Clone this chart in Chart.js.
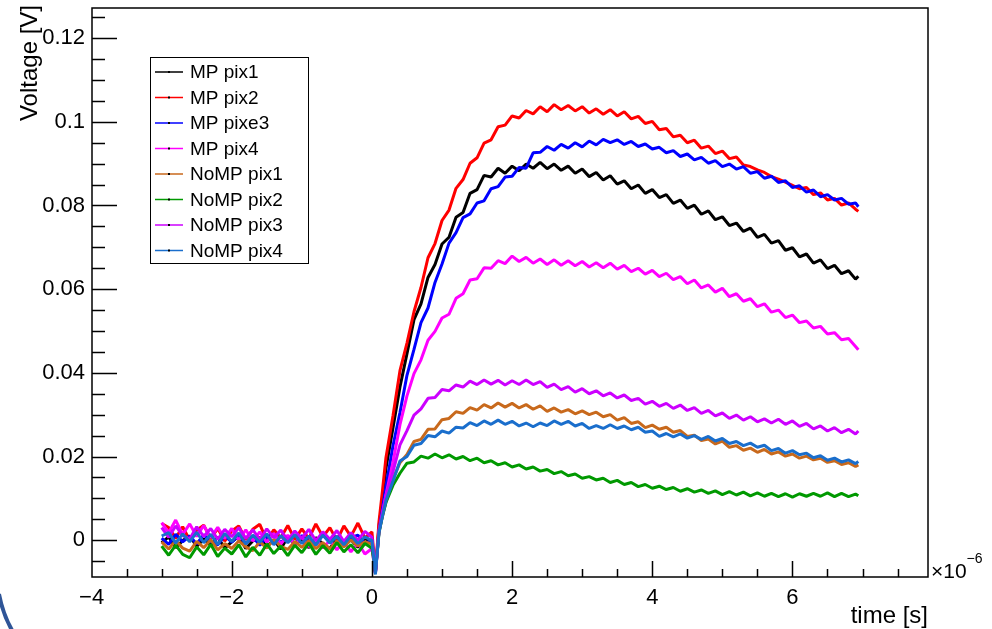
<!DOCTYPE html>
<html>
<head>
<meta charset="utf-8">
<script src="https://cdn.jsdelivr.net/npm/chart.js@4"></script>
<style>
  html, body { margin: 0; padding: 0; background: #fff; }
  canvas { display: block; }
</style>
</head>
<body>
<canvas id="c" width="992" height="629"></canvas>
<script>
// Sample times in microseconds
const times = [
  -3.0,-2.9,-2.8,-2.7,-2.6,-2.5,-2.4,-2.3,-2.2,-2.1,
  -2.0,-1.9,-1.8,-1.7,-1.6,-1.5,-1.4,-1.3,-1.2,-1.1,
  -1.0,-0.9,-0.8,-0.7,-0.6,-0.5,-0.4,-0.3,-0.2,-0.1,
  0.0,
  0.05,0.1,0.15,0.2,
  0.3,0.4,0.5,0.6,0.7,0.8,0.9,1.0,1.1,1.2,
  1.3,1.4,1.5,1.6,1.7,1.8,1.9,2.0,2.1,2.2,
  2.3,2.4,2.5,2.6,2.7,2.8,2.9,3.0,3.1,3.2,
  3.3,3.4,3.5,3.6,3.7,3.8,3.9,4.0,4.1,4.2,
  4.3,4.4,4.5,4.6,4.7,4.8,4.9,5.0,5.1,5.2,
  5.3,5.4,5.5,5.6,5.7,5.8,5.9,6.0,6.1,6.2,
  6.3,6.4,6.5,6.6,6.7,6.8,6.9,
  6.94
];

const seriesNames = ["MP pix1","MP pix2","MP pixe3","MP pix4","NoMP pix1","NoMP pix2","NoMP pix3","NoMP pix4"];
const seriesColors = ["#000000","#ff0000","#0000ff","#ff00ff","#c8691c","#009900","#cc00ff","#1a6ecc"];

// Voltages in volts, one value per sample time
const mpPix1 = [
  -0.0006,0.0008,-0.0018,-0.0001,0.0010,-0.0015,0.0003,-0.0012,0.0007,-0.0019,
  -0.0004,0.0009,-0.0020,-0.0002,0.0006,-0.0016,0.0001,-0.0021,0.0008,-0.0011,
  0.0002,-0.0018,0.0006,-0.0009,-0.0020,0.0005,-0.0013,0.0001,-0.0017,0.0004,
  -0.0005,
  -0.0078,0.0032,0.0098,0.0172,
  0.0268,0.0366,0.0446,0.0527,0.0565,0.0628,0.0659,0.0708,0.0724,0.0772,
  0.0783,0.0829,0.0838,0.0872,0.0868,0.0889,0.0877,0.0894,0.0883,0.0899,
  0.0889,0.0903,0.0888,0.0899,0.0884,0.0894,0.0877,0.0887,0.0869,0.0879,
  0.0861,0.0871,0.0851,0.0859,0.0840,0.0849,0.0829,0.0838,0.0819,0.0826,
  0.0805,0.0813,0.0793,0.0801,0.0779,0.0787,0.0766,0.0773,0.0752,0.0758,
  0.0738,0.0746,0.0724,0.0731,0.0710,0.0716,0.0693,0.0699,0.0677,0.0684,
  0.0662,0.0670,0.0649,0.0657,0.0637,0.0644,0.0624,
  0.0631
];
const mpPix2 = [
  0.0040,0.0030,0.0005,0.0032,0.0000,0.0024,0.0036,0.0003,0.0028,-0.0002,
  0.0022,0.0034,0.0001,0.0026,0.0038,-0.0001,0.0025,0.0006,0.0035,0.0002,
  0.0027,0.0004,0.0039,0.0008,0.0030,-0.0001,0.0034,0.0009,0.0041,0.0005,
  0.0020,
  -0.0076,0.0043,0.0118,0.0197,
  0.0297,0.0405,0.0471,0.0546,0.0604,0.0675,0.0709,0.0764,0.0789,0.0841,
  0.0862,0.0901,0.0914,0.0949,0.0957,0.0988,0.0992,0.1014,0.1009,0.1027,
  0.1019,0.1036,0.1024,0.1041,0.1029,0.1039,0.1026,0.1036,0.1021,0.1031,
  0.1018,0.1029,0.1014,0.1024,0.1007,0.1013,0.0996,0.1001,0.0981,0.0984,
  0.0964,0.0968,0.0950,0.0956,0.0937,0.0942,0.0924,0.0930,0.0912,0.0916,
  0.0897,0.0893,0.0885,0.0879,0.0869,0.0863,0.0856,0.0848,0.0840,0.0843,
  0.0826,0.0830,0.0813,0.0817,0.0801,0.0806,0.0791,
  0.0786
];
const mpPix3 = [
  0.0005,-0.0010,0.0014,-0.0004,0.0010,-0.0009,0.0013,-0.0003,-0.0011,0.0011,
  -0.0005,0.0012,-0.0008,0.0008,-0.0012,0.0007,0.0015,-0.0006,0.0010,-0.0009,
  0.0011,-0.0002,-0.0010,0.0013,-0.0005,0.0009,-0.0011,0.0006,0.0012,-0.0008,
  0.0001,
  -0.0080,0.0021,0.0074,0.0128,
  0.0225,0.0305,0.0394,0.0456,0.0520,0.0555,0.0616,0.0660,0.0710,0.0735,
  0.0771,0.0780,0.0806,0.0811,0.0840,0.0845,0.0868,0.0870,0.0891,0.0889,
  0.0926,0.0927,0.0941,0.0932,0.0946,0.0937,0.0950,0.0940,0.0954,0.0945,
  0.0958,0.0950,0.0957,0.0946,0.0953,0.0941,0.0947,0.0935,0.0939,0.0926,
  0.0931,0.0917,0.0923,0.0909,0.0915,0.0901,0.0907,0.0893,0.0899,0.0887,
  0.0893,0.0877,0.0881,0.0865,0.0870,0.0855,0.0859,0.0843,0.0847,0.0832,
  0.0837,0.0821,0.0826,0.0813,0.0817,0.0803,0.0806,
  0.0797
];
const mpPix4 = [
  0.0042,0.0018,0.0048,0.0014,0.0039,0.0009,0.0035,0.0006,0.0031,0.0004,
  0.0028,0.0000,0.0025,-0.0002,0.0020,-0.0005,0.0016,-0.0009,0.0012,-0.0011,
  0.0008,-0.0016,0.0004,-0.0019,0.0000,-0.0023,-0.0003,-0.0028,-0.0006,-0.0033,
  -0.0020,
  -0.0079,0.0019,0.0062,0.0108,
  0.0186,0.0276,0.0345,0.0398,0.0431,0.0478,0.0499,0.0531,0.0540,0.0578,
  0.0589,0.0622,0.0625,0.0651,0.0650,0.0668,0.0661,0.0679,0.0666,0.0676,
  0.0662,0.0672,0.0659,0.0670,0.0657,0.0668,0.0656,0.0666,0.0653,0.0663,
  0.0651,0.0662,0.0648,0.0657,0.0642,0.0650,0.0636,0.0645,0.0630,0.0638,
  0.0623,0.0630,0.0613,0.0622,0.0603,0.0610,0.0593,0.0602,0.0582,0.0589,
  0.0571,0.0577,0.0558,0.0565,0.0545,0.0550,0.0532,0.0538,0.0520,0.0524,
  0.0507,0.0511,0.0493,0.0496,0.0479,0.0482,0.0463,
  0.0455
];
const noMpPix1 = [
  -0.0004,-0.0021,-0.0001,-0.0019,-0.0026,-0.0003,-0.0018,0.0001,-0.0023,-0.0008,
  -0.0020,-0.0002,-0.0016,-0.0025,-0.0004,-0.0019,0.0002,-0.0015,-0.0022,-0.0003,
  -0.0017,-0.0001,-0.0020,-0.0006,-0.0021,-0.0002,-0.0016,0.0001,-0.0014,-0.0004,
  -0.0009,
  -0.0074,0.0021,0.0056,0.0092,
  0.0146,0.0185,0.0205,0.0236,0.0241,0.0265,0.0266,0.0288,0.0291,0.0307,
  0.0303,0.0317,0.0311,0.0324,0.0316,0.0328,0.0318,0.0327,0.0316,0.0324,
  0.0313,0.0321,0.0308,0.0316,0.0306,0.0312,0.0302,0.0309,0.0300,0.0306,
  0.0295,0.0300,0.0287,0.0293,0.0279,0.0283,0.0269,0.0275,0.0265,0.0270,
  0.0258,0.0262,0.0248,0.0251,0.0238,0.0242,0.0230,0.0237,0.0222,0.0226,
  0.0215,0.0220,0.0210,0.0217,0.0206,0.0211,0.0201,0.0206,0.0196,0.0201,
  0.0192,0.0196,0.0186,0.0190,0.0181,0.0185,0.0176,
  0.0180
];
const noMpPix2 = [
  -0.0014,-0.0036,-0.0012,-0.0034,-0.0042,-0.0016,-0.0035,-0.0010,-0.0039,-0.0019,
  -0.0033,-0.0011,-0.0040,-0.0017,-0.0036,-0.0009,-0.0032,-0.0014,-0.0037,-0.0012,
  -0.0030,-0.0007,-0.0034,-0.0013,-0.0031,-0.0006,-0.0028,-0.0011,-0.0030,-0.0008,
  -0.0019,
  -0.0075,0.0016,0.0059,0.0090,
  0.0131,0.0160,0.0184,0.0187,0.0201,0.0196,0.0206,0.0197,0.0204,0.0194,
  0.0200,0.0190,0.0196,0.0185,0.0190,0.0180,0.0185,0.0175,0.0180,0.0170,
  0.0175,0.0165,0.0169,0.0159,0.0164,0.0154,0.0158,0.0148,0.0152,0.0144,
  0.0148,0.0138,0.0143,0.0133,0.0138,0.0128,0.0133,0.0124,0.0129,0.0121,
  0.0126,0.0117,0.0123,0.0115,0.0120,0.0112,0.0118,0.0109,0.0116,0.0108,
  0.0115,0.0106,0.0113,0.0105,0.0112,0.0104,0.0111,0.0103,0.0111,0.0105,
  0.0112,0.0105,0.0113,0.0104,0.0112,0.0104,0.0110,
  0.0106
];
const noMpPix3 = [
  0.0030,0.0007,0.0034,0.0011,0.0003,0.0032,0.0009,0.0028,0.0002,0.0026,
  0.0008,0.0030,0.0004,0.0025,0.0001,0.0027,0.0006,0.0024,-0.0001,0.0022,
  0.0004,0.0026,-0.0002,0.0020,0.0002,0.0023,-0.0003,0.0018,0.0000,0.0021,
  0.0007,
  -0.0077,0.0022,0.0066,0.0107,
  0.0163,0.0228,0.0262,0.0299,0.0314,0.0339,0.0341,0.0360,0.0357,0.0371,
  0.0366,0.0380,0.0372,0.0383,0.0373,0.0382,0.0371,0.0381,0.0372,0.0383,
  0.0372,0.0379,0.0365,0.0373,0.0360,0.0367,0.0354,0.0362,0.0350,0.0357,
  0.0345,0.0352,0.0340,0.0347,0.0334,0.0339,0.0325,0.0332,0.0320,0.0327,
  0.0315,0.0323,0.0310,0.0317,0.0303,0.0310,0.0297,0.0304,0.0291,0.0299,
  0.0287,0.0295,0.0283,0.0290,0.0280,0.0289,0.0277,0.0285,0.0272,0.0279,
  0.0266,0.0273,0.0261,0.0269,0.0257,0.0265,0.0254,
  0.0261
];
const noMpPix4 = [
  0.0010,0.0018,-0.0007,0.0015,-0.0004,0.0019,-0.0006,0.0014,-0.0010,0.0016,
  -0.0003,0.0017,-0.0009,0.0012,-0.0005,0.0015,-0.0011,0.0011,-0.0006,0.0013,
  -0.0008,0.0010,-0.0012,0.0012,-0.0007,0.0009,-0.0011,0.0011,-0.0008,0.0008,
  -0.0001,
  -0.0082,0.0018,0.0057,0.0094,
  0.0141,0.0189,0.0200,0.0227,0.0231,0.0250,0.0247,0.0261,0.0256,0.0270,
  0.0268,0.0281,0.0274,0.0285,0.0277,0.0287,0.0277,0.0284,0.0273,0.0280,
  0.0271,0.0280,0.0274,0.0285,0.0277,0.0284,0.0273,0.0279,0.0267,0.0274,
  0.0267,0.0276,0.0267,0.0273,0.0264,0.0270,0.0258,0.0261,0.0248,0.0255,
  0.0247,0.0254,0.0244,0.0250,0.0241,0.0248,0.0237,0.0243,0.0231,0.0236,
  0.0226,0.0232,0.0222,0.0227,0.0214,0.0219,0.0208,0.0214,0.0204,0.0208,
  0.0197,0.0202,0.0191,0.0196,0.0187,0.0192,0.0183,
  0.0188
];

// Axis ranges and tick labels
const xRange = [-3.994, 7.934];
const yRange = [-0.0088, 0.1272];
const xTickValues = [-4, -2, 0, 2, 4, 6];
const yTickValues = [0, 0.02, 0.04, 0.06, 0.08, 0.1, 0.12];
const xMinorStep = 0.5;
const yMinorStep = 0.005;
const xTitle = "time [s]";
const yTitle = "Voltage [V]";
const xExponent = "\u22126";

const allSeries = [mpPix1, mpPix2, mpPix3, mpPix4, noMpPix1, noMpPix2, noMpPix3, noMpPix4];

const FONT = '"Liberation Sans", Arial, Helvetica, sans-serif';

const datasets = allSeries.map((vals, i) => ({
  label: seriesNames[i],
  data: times.map((t, k) => ({ x: t, y: vals[k] })),
  borderColor: seriesColors[i],
  backgroundColor: seriesColors[i],
  borderWidth: 3,
  pointRadius: 0,
  tension: 0,
  fill: false,
  borderJoinStyle: 'bevel',
  order: allSeries.length - i
}));

function fmtX(v) { return v < 0 ? '\u2212' + Math.abs(v) : String(v); }
function fmtY(v) { return v === 0 ? '0' : String(+v.toFixed(3)); }

// Frame, inward ticks, titles, legend box
const rootStyle = {
  id: 'rootStyle',
  afterDraw(chart) {
    const ctx = chart.ctx;
    const a = chart.chartArea;
    const xs = chart.scales.x, ys = chart.scales.y;
    ctx.save();
    ctx.strokeStyle = '#000';
    ctx.fillStyle = '#000';

    // frame
    ctx.lineWidth = 1.5;
    ctx.strokeRect(a.left, a.top, a.right - a.left, a.bottom - a.top);

    // x ticks (inward from bottom)
    ctx.beginPath();
    const xStart = Math.ceil(xRange[0] / xMinorStep) * xMinorStep;
    for (let v = xStart; v <= xRange[1] + 1e-9; v += xMinorStep) {
      const px = Math.round(xs.getPixelForValue(v)) + 0.5;
      const major = Math.abs(v / 2 - Math.round(v / 2)) < 1e-6;
      ctx.moveTo(px, a.bottom);
      ctx.lineTo(px, a.bottom - (major ? 16 : 8));
    }
    // y ticks (inward from left)
    const yStart = Math.ceil(yRange[0] / yMinorStep) * yMinorStep;
    for (let v = yStart; v <= yRange[1] + 1e-9; v += yMinorStep) {
      const py = Math.round(ys.getPixelForValue(v)) + 0.5;
      const major = Math.abs(v / 0.02 - Math.round(v / 0.02)) < 1e-6;
      ctx.moveTo(a.left, py);
      ctx.lineTo(a.left + (major ? 25 : 13), py);
    }
    ctx.stroke();

    // x title, right aligned
    ctx.font = '24px ' + FONT;
    ctx.textAlign = 'right';
    ctx.textBaseline = 'alphabetic';
    ctx.fillText(xTitle, a.right, 623);

    // exponent
    ctx.textAlign = 'left';
    ctx.font = '21px ' + FONT;
    ctx.fillText('\u00d710', a.right + 3, 578);
    const w = ctx.measureText('\u00d710').width;
    ctx.font = '14px ' + FONT;
    ctx.fillText(xExponent, a.right + 3 + w, 563);

    // y title, rotated, aligned to top
    ctx.save();
    ctx.font = '24px ' + FONT;
    ctx.translate(37, a.top - 3);
    ctx.rotate(-Math.PI / 2);
    ctx.textAlign = 'right';
    ctx.textBaseline = 'alphabetic';
    ctx.fillText(yTitle, 0, 0);
    ctx.restore();

    // legend
    const lx = 150, ly = 57, lw = 158, lh = 206;
    ctx.fillStyle = '#fff';
    ctx.fillRect(lx, ly, lw, lh);
    ctx.lineWidth = 1;
    ctx.strokeStyle = '#000';
    ctx.strokeRect(lx + 0.5, ly + 0.5, lw, lh);
    ctx.font = '19px ' + FONT;
    ctx.textAlign = 'left';
    ctx.textBaseline = 'middle';
    chart.data.datasets.forEach((ds, i) => {
      const cy = ly + 15 + i * 25.5;
      ctx.strokeStyle = ds.borderColor;
      ctx.lineWidth = 1.5;
      ctx.beginPath();
      ctx.moveTo(lx + 5, cy);
      ctx.lineTo(lx + 33, cy);
      ctx.stroke();
      ctx.fillStyle = '#000';
      ctx.fillRect(lx + 18, cy - 1, 2, 2);
      ctx.fillText(ds.label, lx + 40, cy + 1);
    });

    // slide decoration arc in the lower-left corner
    ctx.strokeStyle = '#2f5597';
    ctx.lineWidth = 4;
    ctx.beginPath();
    ctx.moveTo(-1, 594);
    ctx.quadraticCurveTo(3, 615, 13, 632);
    ctx.stroke();

    ctx.restore();
  }
};

new Chart(document.getElementById('c'), {
  type: 'line',
  data: { datasets },
  options: {
    responsive: false,
    animation: false,
    devicePixelRatio: 1,
    layout: { padding: { top: 8, right: 64, left: 0, bottom: 0 } },
    plugins: { legend: { display: false }, tooltip: { enabled: false } },
    scales: {
      x: {
        type: 'linear',
        min: xRange[0], max: xRange[1],
        grid: { display: false, drawTicks: false },
        border: { display: false },
        afterBuildTicks: s => { s.ticks = xTickValues.map(v => ({ value: v })); },
        afterFit: s => { s.height = 52; s.paddingLeft = 0; s.paddingRight = 0; },
        ticks: {
          font: { family: FONT, size: 22 }, color: '#000', padding: 8,
          maxRotation: 0, autoSkip: false, callback: v => fmtX(v)
        }
      },
      y: {
        type: 'linear',
        min: yRange[0], max: yRange[1],
        grid: { display: false, drawTicks: false },
        border: { display: false },
        afterBuildTicks: s => { s.ticks = yTickValues.map(v => ({ value: v })); },
        afterFit: s => { s.width = 92; s.paddingTop = 0; s.paddingBottom = 0; },
        ticks: {
          font: { family: FONT, size: 22 }, color: '#000', padding: 7,
          autoSkip: false, callback: v => fmtY(v)
        }
      }
    }
  },
  plugins: [rootStyle]
});
</script>
</body>
</html>
